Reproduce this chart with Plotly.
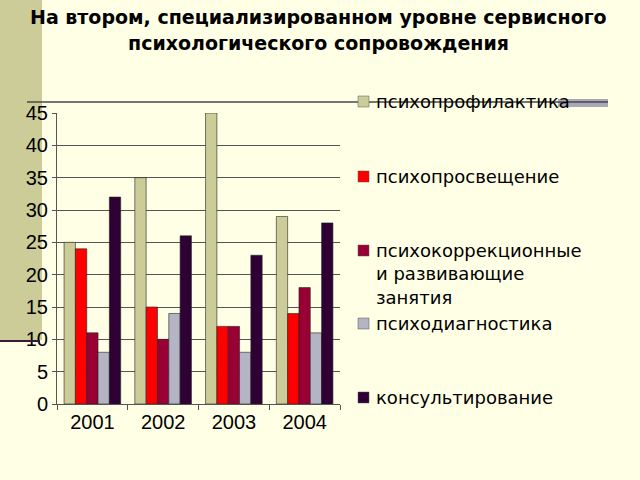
import plotly.graph_objects as go

years = ["2001", "2002", "2003", "2004"]
series_names = [
    "психопрофилактика",
    "психопросвещение",
    "психокоррекционные<br>и развивающие<br>занятия",
    "психодиагностика",
    "консультирование",
]
values = [
    [25, 35, 45, 29],
    [24, 15, 12, 14],
    [11, 10, 12, 18],
    [8, 14, 8, 11],
    [32, 26, 23, 28],
]
colors = ["#cccc99", "#ff0000", "#990033", "#b4b4c4", "#2e0033"]
title_lines = ["На втором, специализированном уровне сервисного",
               "психологического сопровождения"]

W, H = 640, 480
L, R, T, B = 57, 340, 113, 404  # plot area pixels


def px(x):
    return (x - L) / (R - L)


def py(y):
    return (B - y) / (B - T)


fig = go.Figure()
for name, vals, c in zip(series_names, values, colors):
    fig.add_trace(go.Bar(
        x=years, y=vals, name=name.replace("<br>", " "),
        marker=dict(color=c, line=dict(color="#222222", width=0.6)),
        showlegend=False,
    ))

bg = "#ffffe6"
shapes = [
    dict(type="rect", xref="paper", yref="paper", x0=px(0), x1=px(42), y0=py(340), y1=py(0),
         fillcolor="#cccc99", line=dict(width=0), layer="below"),
    dict(type="line", xref="paper", yref="paper", x0=px(0), x1=px(40), y0=py(341), y1=py(341),
         line=dict(color="#3a1a3a", width=2)),
    dict(type="rect", xref="paper", yref="paper", x0=px(558), x1=px(608), y0=py(107), y1=py(99),
         fillcolor="#a8a8b8", line=dict(width=0), layer="below"),
    dict(type="line", xref="paper", yref="paper", x0=px(27), x1=px(608), y0=py(102), y1=py(102),
         line=dict(color="#4a4a4a", width=1.5)),
]

annotations = []
for i, t in enumerate(title_lines):
    annotations.append(dict(
        text=f"<b>{t}</b>", xref="paper", yref="paper", x=px(318), y=py(17 + i * 26),
        xanchor="center", yanchor="middle", showarrow=False,
        font=dict(family="DejaVu Sans", size=19, color="#000000")))

leg_y = [101, 176, 250, 323, 397]
for name, c, yy in zip(series_names, colors, leg_y):
    shapes.append(dict(type="rect", xref="paper", yref="paper",
                       x0=px(358), x1=px(369), y0=py(yy + 6), y1=py(yy - 5),
                       fillcolor=c, line=dict(color="#555555", width=0.5)))
    annotations.append(dict(
        text=name, xref="paper", yref="paper", x=px(374), y=py(yy - 12),
        xanchor="left", yanchor="top", align="left", showarrow=False,
        font=dict(family="DejaVu Sans", size=18, color="#000000")))

fig.update_layout(
    width=W, height=H,
    margin=dict(l=L, r=W - R, t=T, b=H - B),
    paper_bgcolor=bg, plot_bgcolor=bg,
    barmode="group", bargap=0.2, bargroupgap=0,
    shapes=shapes, annotations=annotations,
    showlegend=False,
    font=dict(family="Liberation Sans, Arial", size=18, color="#000000"),
)
fig.update_yaxes(range=[0, 45], dtick=5, showgrid=True, gridcolor="#555555", gridwidth=1,
                 showline=True, linecolor="#555555", ticks="outside", ticklen=4,
                 tickcolor="#555555", tickfont=dict(size=20), zeroline=False)
fig.update_xaxes(showline=True, linecolor="#555555", ticks="outside", tickson="boundaries",
                 ticklen=5, tickcolor="#555555", tickfont=dict(size=20))

fig.write_html("out.html")
